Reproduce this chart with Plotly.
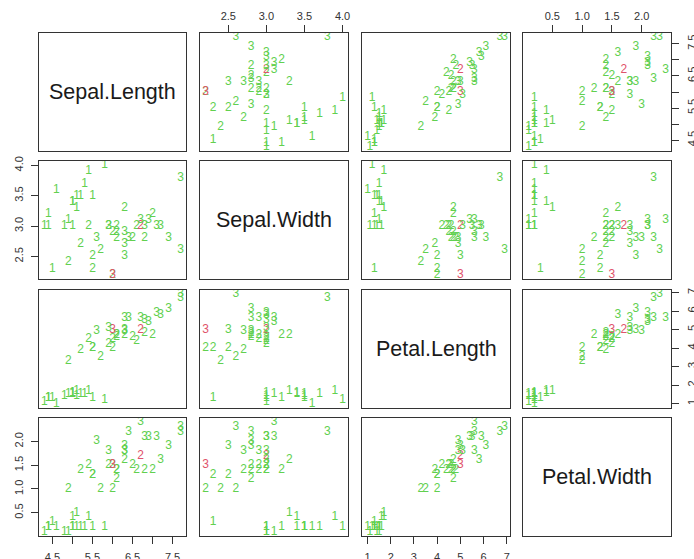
import plotly.graph_objects as go

# ---- data (iris test subset; label = class, red = misclassified) ----
sepal_length = [5.1, 5.4, 5.0, 4.9, 4.8, 4.3, 5.8, 4.6, 5.1, 5.0, 5.0, 5.2, 5.5, 4.4, 4.5, 4.4, 5.3,
                7.0, 5.5, 6.5, 6.3, 4.9, 5.2, 5.9, 6.0, 6.1, 6.1, 6.6, 6.8, 6.7, 6.0, 5.7, 5.4, 5.5, 6.1,
                7.1, 6.3, 6.8, 7.7, 7.7, 6.0, 5.6, 6.3, 7.2, 7.4, 6.4, 6.9, 6.7, 6.3, 5.9]
sepal_width = [3.5, 3.9, 3.4, 3.1, 3.0, 3.0, 4.0, 3.6, 3.3, 3.0, 3.4, 3.5, 3.5, 3.0, 2.3, 3.2, 3.7,
               3.2, 2.3, 2.8, 3.3, 2.4, 2.7, 3.0, 2.2, 2.9, 2.8, 3.0, 2.8, 3.0, 2.9, 2.6, 3.0, 2.5, 3.0,
               3.0, 2.9, 3.0, 3.8, 2.6, 2.2, 2.8, 2.7, 3.0, 2.8, 2.8, 3.1, 3.1, 2.5, 3.0]
petal_length = [1.4, 1.7, 1.5, 1.5, 1.4, 1.1, 1.2, 1.0, 1.7, 1.6, 1.6, 1.5, 1.3, 1.3, 1.3, 1.3, 1.5,
                4.7, 4.0, 4.6, 4.7, 3.3, 3.9, 4.2, 4.0, 4.7, 4.7, 4.4, 4.8, 5.0, 4.5, 3.5, 4.5, 4.0, 4.6,
                5.9, 5.6, 5.5, 6.7, 6.9, 5.0, 4.9, 4.9, 5.8, 6.1, 5.6, 5.4, 5.6, 5.0, 5.1]
petal_width = [0.2, 0.4, 0.2, 0.1, 0.1, 0.1, 0.2, 0.2, 0.5, 0.2, 0.4, 0.2, 0.2, 0.2, 0.3, 0.2, 0.2,
               1.4, 1.3, 1.5, 1.6, 1.0, 1.4, 1.5, 1.0, 1.4, 1.2, 1.4, 1.4, 1.7, 1.5, 1.0, 1.5, 1.3, 1.4,
               2.1, 1.8, 2.1, 2.2, 2.3, 1.5, 2.0, 1.8, 1.6, 1.9, 2.2, 2.1, 2.4, 1.9, 1.8]
class_label = ["1"] * 17 + ["2"] * 18 + ["3"] * 15
misclassified = [False] * 29 + [True] + [False] * 10 + [True] + [False] * 9

var_names = ["Sepal.Length", "Sepal.Width", "Petal.Length", "Petal.Width"]
# labelled ticks and unlabelled (in-between) ticks per variable
tick_values = [
    [4.5, 5.5, 6.5, 7.5],
    [2.5, 3.0, 3.5, 4.0],
    [1, 2, 3, 4, 5, 6, 7],
    [0.5, 1.0, 1.5, 2.0],
]
tick_labels = [
    ["4.5", "5.5", "6.5", "7.5"],
    ["2.5", "3.0", "3.5", "4.0"],
    ["1", "2", "3", "4", "5", "6", "7"],
    ["0.5", "1.0", "1.5", "2.0"],
]
unlabelled_ticks = [
    [5.0, 6.0, 7.0],
    [],
    [],
    [],
]

GREEN = "#61D04F"
RED = "#DF536B"
colors = [RED if m else GREEN for m in misclassified]
data = [sepal_length, sepal_width, petal_length, petal_width]

W, H = 694, 559
cols_px = [(39, 186), (200, 348), (362, 510), (523, 671)]
rows_px = [(33, 151), (161, 279), (290, 408), (418, 536)]

FONT = "Liberation Sans, Arial, sans-serif"
LINE = "#333333"

def ext_range(v):
    lo, hi = min(v), max(v)
    d = (hi - lo) * 0.04
    return [lo - d, hi + d]

ranges = [ext_range(v) for v in data]

fig = go.Figure()
layout = dict(
    width=W, height=H, margin=dict(l=0, r=0, t=0, b=0),
    paper_bgcolor="white", plot_bgcolor="white",
    showlegend=False, template="none",
    font=dict(family=FONT, size=11, color="#333333"),
)
annotations = []

def tick_setup(i):
    d = dict(ticks="outside", ticklen=7, tickcolor=LINE, tickwidth=1, showticklabels=True,
             tickmode="array", tickvals=tick_values[i], ticktext=tick_labels[i],
             tickfont=dict(family=FONT, size=11, color="#333333"))
    if unlabelled_ticks[i]:
        d["minor"] = dict(tickmode="array", tickvals=unlabelled_ticks[i], ticks="outside",
                          ticklen=7, tickcolor=LINE, tickwidth=1, showgrid=False)
    return d

for r in range(4):
    for c in range(4):
        k = r * 4 + c + 1
        xa = "xaxis" if k == 1 else f"xaxis{k}"
        ya = "yaxis" if k == 1 else f"yaxis{k}"
        xr = "x" if k == 1 else f"x{k}"
        yr = "y" if k == 1 else f"y{k}"
        x0, x1 = cols_px[c]
        y0, y1 = rows_px[r]
        xdom = [x0 / W, x1 / W]
        ydom = [1 - y1 / H, 1 - y0 / H]
        xax = dict(domain=xdom, anchor=yr, showline=True, mirror=True, linecolor=LINE,
                   linewidth=1, showgrid=False, zeroline=False, showticklabels=False,
                   ticks="", automargin=False, fixedrange=True)
        yax = dict(domain=ydom, anchor=xr, showline=True, mirror=True, linecolor=LINE,
                   linewidth=1, showgrid=False, zeroline=False, showticklabels=False,
                   ticks="", automargin=False, fixedrange=True)
        if r == c:
            xax["range"] = [0, 1]
            yax["range"] = [0, 1]
            annotations.append(dict(
                x=0.5, y=0.5, xref=xr, yref=yr, text=var_names[r], showarrow=False,
                font=dict(family=FONT, size=21.5, color="#1a1a1a")))
            fig.add_trace(go.Scatter(x=[0.5], y=[0.5], mode="markers", marker=dict(opacity=0),
                                     xaxis=xr, yaxis=yr, hoverinfo="skip"))
        else:
            xax["range"] = ranges[c]
            yax["range"] = ranges[r]
            fig.add_trace(go.Scatter(
                x=data[c], y=data[r], mode="text", text=class_label,
                textposition="middle center",
                textfont=dict(family=FONT, size=12, color=colors),
                xaxis=xr, yaxis=yr, hoverinfo="skip"))
        # axes with ticks (R pairs alternating layout)
        if (r == 0 and c in (1, 3)) or (r == 3 and c in (0, 2)):
            xax.update(tick_setup(c))
            xax.update(side="top" if r == 0 else "bottom",
                       ticklabelstandoff=1 if r == 0 else 4)
        if (c == 0 and r in (1, 3)) or (c == 3 and r in (0, 2)):
            yax.update(tick_setup(r))
            yax.update(side="left" if c == 0 else "right", tickangle=-90,
                       ticklabelstandoff=4)
        layout[xa] = xax
        layout[ya] = yax

layout["annotations"] = annotations
fig.update_layout(**layout)
fig.write_html("out.html")
